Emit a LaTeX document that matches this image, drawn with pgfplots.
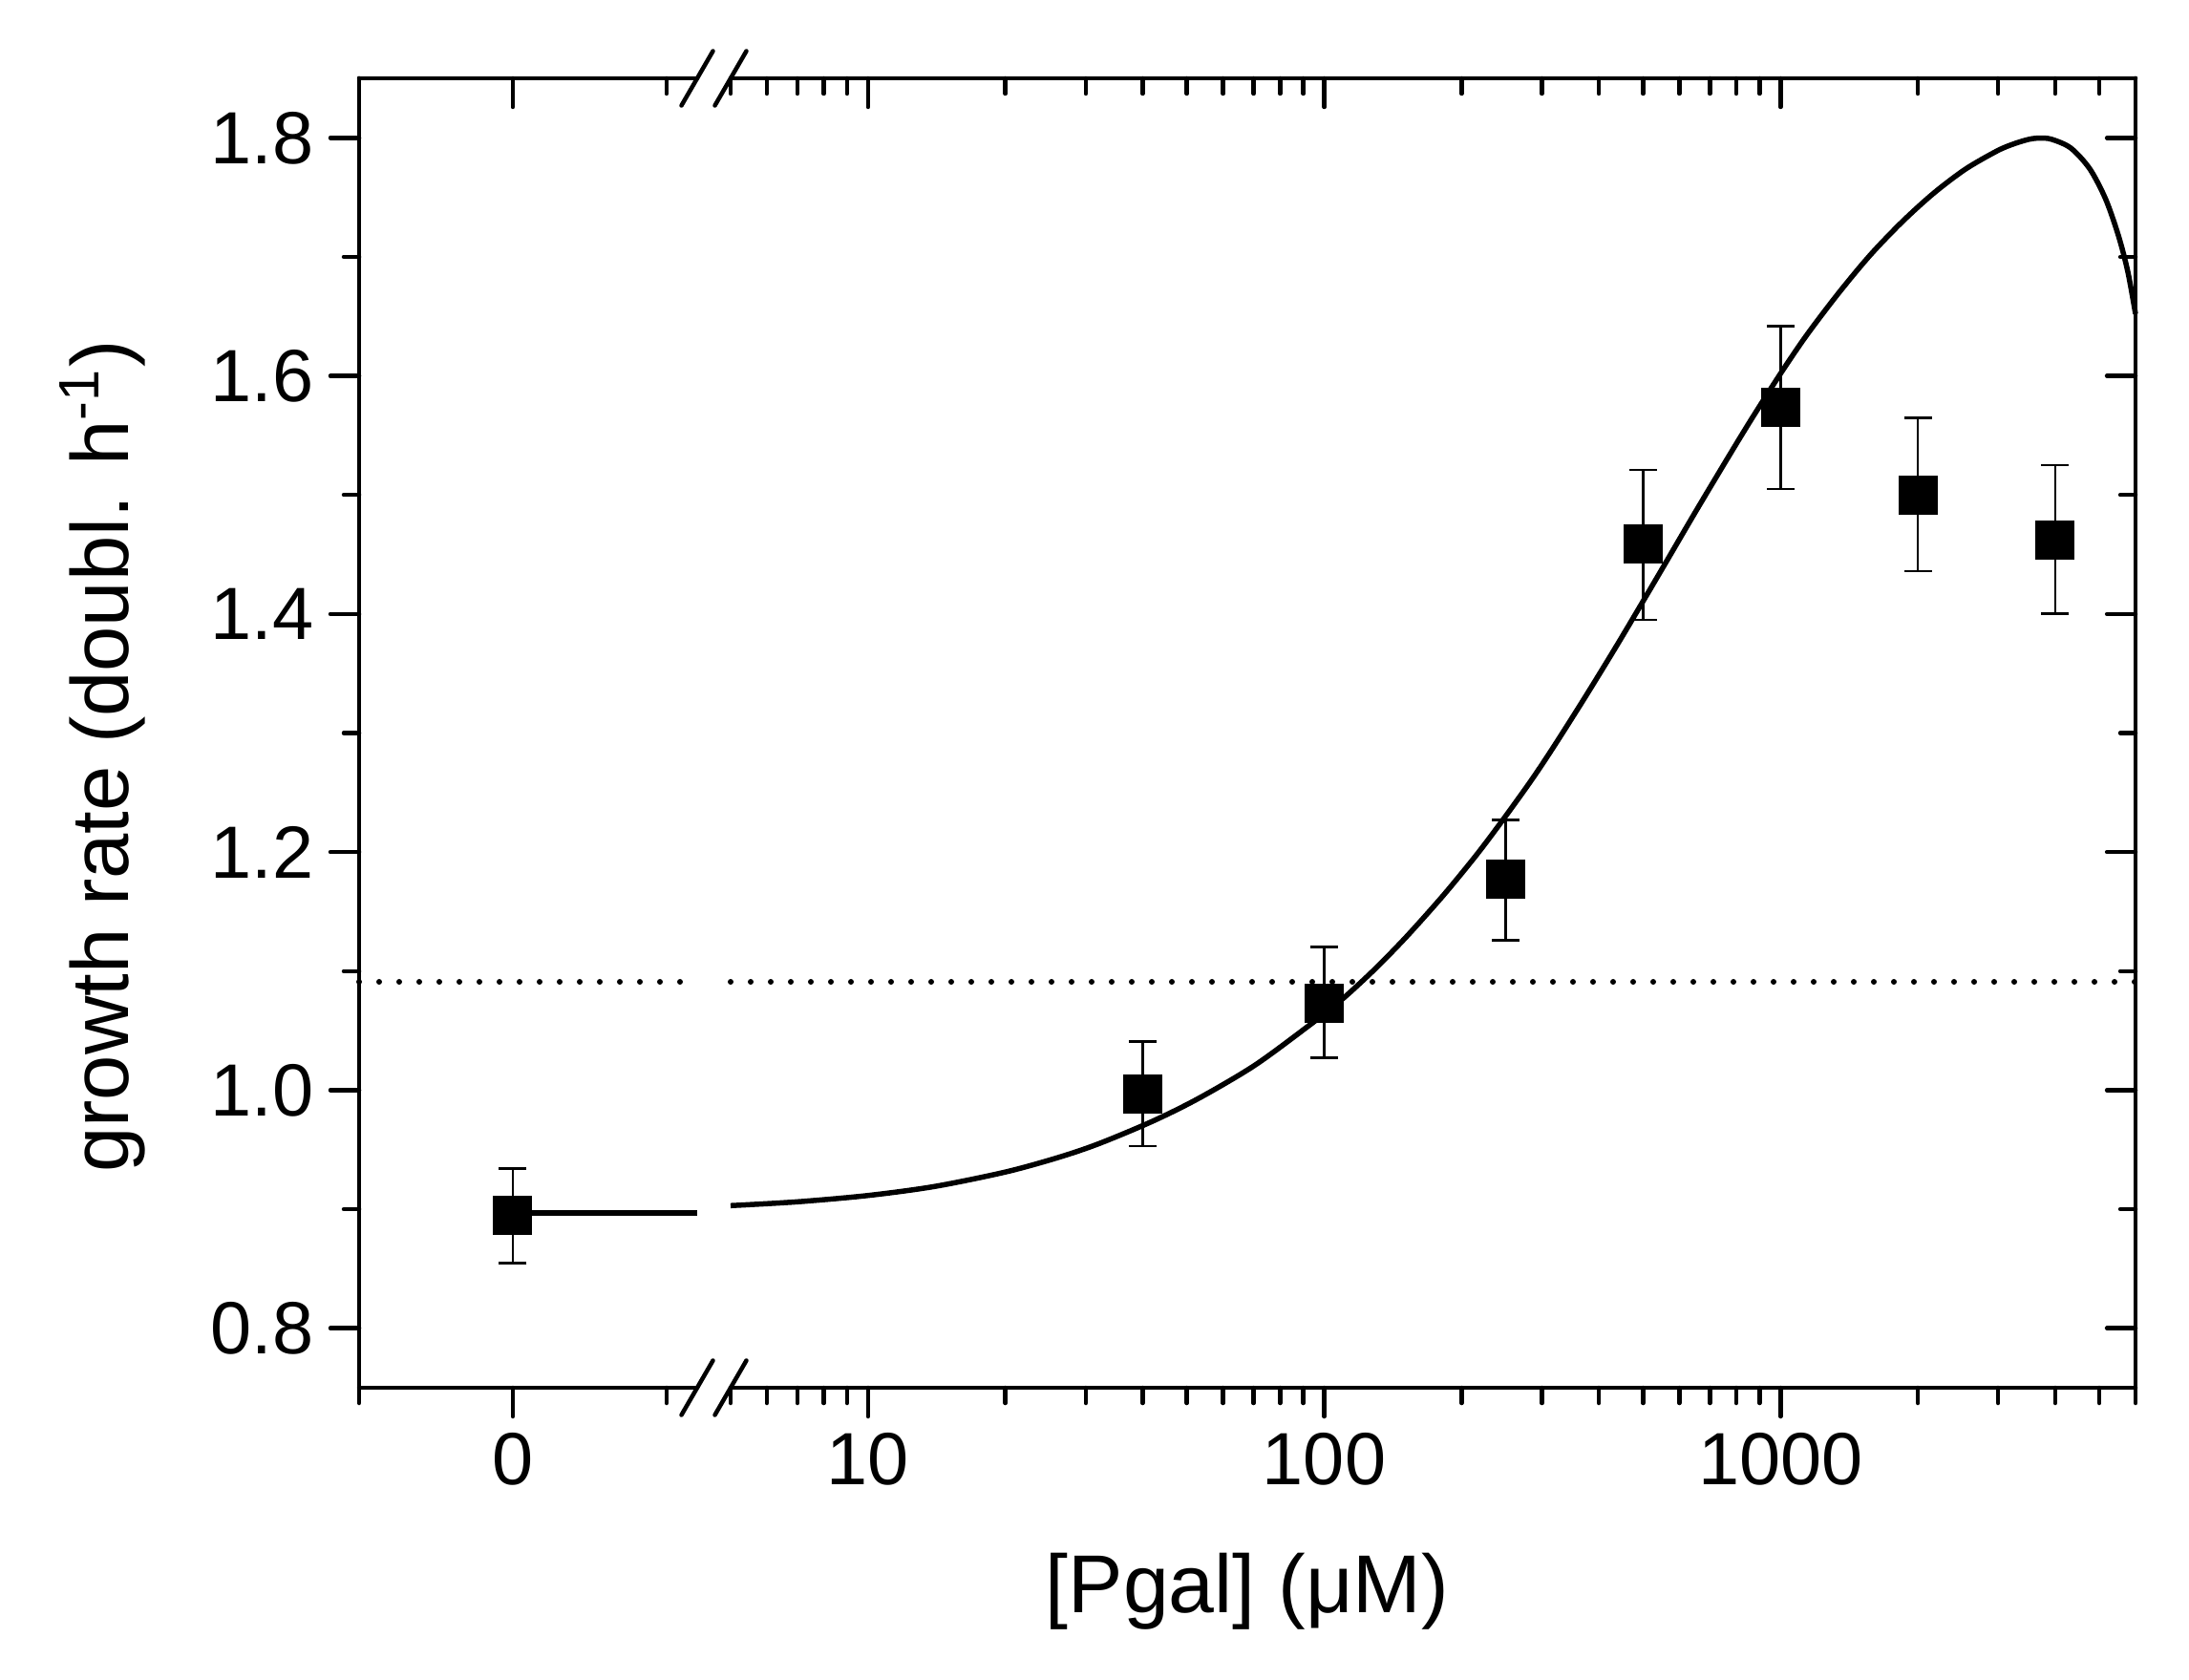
\documentclass[border=0pt]{standalone}
\usepackage{fontspec}
\setmainfont{Liberation Sans}
\usepackage{pgfplots}
\usepackage{pgfplotstable}
\pgfplotsset{compat=1.18}
\pgfplotsset{
  every non boxed x axis/.style={},
  every non boxed y axis/.style={},
  base/.style={
    scale only axis, height=274.2pt, ymin=0.75, ymax=1.85,
    enlargelimits=false, clip=false,
    axis line style={line width=0.9pt, -, line cap=round},
    major tick length=6pt, minor tick length=3.2pt,
    every tick/.style={black, line width=0.9pt, line cap=round},
    ytick={0.8,1.0,1.2,1.4,1.6,1.8}, minor ytick={0.9,1.1,1.3,1.5,1.7},
    yticklabels={0.8,1.0,1.2,1.4,1.6,1.8},
    ticklabel style={font=\fontsize{15.5}{18}\selectfont},
  },
  lin/.style={base, width=70.8pt, xmin=-1, xmax=1.2, xtick={0}, minor xtick={-1,1}, xticklabels={0}},
  lgax/.style={base, width=294.2pt, xmin=5, xmax=6000, xtick={10,100,1000},
    xticklabels={10,100,1000},
    minor xtick={5,6,7,8,9,20,30,40,50,60,70,80,90,200,300,400,500,600,700,800,900,2000,3000,4000,5000,6000}},
  pts/.style={only marks, mark=square*, mark size=3.9pt, mark options={line width=0.4pt, fill=black, draw=black},
    error bars/.cd, y dir=both, y explicit, error mark=|,
    error bar style={line width=0.55pt, black},
    error mark options={line width=0.55pt, mark size=2.9pt, black}},
}
\pgfplotstableread{
x y ep em
0 0.895 0.039 0.040
}\ptzero
\pgfplotstableread{
x y ep em
40 0.997 0.044 0.044
100 1.073 0.047 0.046
250 1.177 0.050 0.051
500 1.459 0.062 0.064
1000 1.574 0.068 0.069
2000 1.500 0.065 0.064
4000 1.462 0.063 0.062
}\ptlog
\pgfplotstableread{
x y
5 0.9030
7 0.9062
10 0.9115
14 0.9191
20 0.9312
26 0.9432
32 0.9549
42 0.9738
53 0.9930
70 1.0202
90 1.0507
108 1.0744
128 1.1003
151 1.1284
182 1.1632
215 1.1970
245 1.2258
284 1.2600
318 1.2882
369 1.3272
420 1.3622
466 1.3910
550 1.4378
647 1.4840
760 1.5288
864 1.5638
1000 1.6019
1139 1.6338
1337 1.6690
1570 1.7012
1845 1.7292
2165 1.7534
2543 1.7737
2986 1.7891
3250 1.7950
3507 1.7988
3700 1.7998
3927 1.7988
4325 1.7915
4760 1.7741
5160 1.7485
5505 1.7177
5770 1.6877
6000 1.6520
}\fitcurve
\tikzset{
  dotline/.style={line width=1.2pt, dash pattern=on 0pt off 4.2pt, line cap=round},
  fitline/.style={line width=1.1pt, black},
}
\begin{document}
\begin{tikzpicture}
\path[use as bounding box] (0,0) rectangle (458.4pt,351.6pt);
% left (linear) segment, labelled sides
\begin{axis}[lin, at={(75.2pt,61pt)}, anchor=south west,
  axis x line*=bottom, axis y line*=left, xtick pos=bottom, ytick pos=left, tick align=outside]
  \addplot[dotline] coordinates {(-1,1.091) (1.2,1.091)};
  \addplot[fitline] coordinates {(0,0.897) (1.2,0.897)};
  \addplot[pts] table[x=x, y=y, y error plus=ep, y error minus=em] {\ptzero};
\end{axis}
\begin{axis}[lin, at={(75.2pt,61pt)}, anchor=south west,
  axis x line*=top, axis y line=none, xtick pos=top, tick align=inside,
  xticklabels={}, ytick=\empty, minor ytick={}]
\end{axis}
% right (log) segment
\begin{axis}[xmode=log, lgax, at={(153pt,61pt)}, anchor=south west,
  axis x line*=bottom, axis y line=none, xtick pos=bottom, tick align=outside,
  ytick=\empty, minor ytick={}]
  \addplot[dotline] coordinates {(5,1.091) (6000,1.091)};
  \addplot[fitline, smooth, tension=0.5] table[x=x, y=y] {\fitcurve};
  \addplot[pts] table[x=x, y=y, y error plus=ep, y error minus=em] {\ptlog};
\end{axis}
\begin{axis}[xmode=log, lgax, at={(153pt,61pt)}, anchor=south west,
  axis x line*=top, axis y line*=right, xtick pos=top, ytick pos=right, tick align=inside,
  xticklabels={}, yticklabels={}]
\end{axis}
% axis break marks
\foreach \yy in {61pt,335.2pt} {
  \draw[line width=0.9pt, line cap=round] (142.7pt,\yy-5.7pt) -- (149.3pt,\yy+5.7pt);
  \draw[line width=0.9pt, line cap=round] (149.7pt,\yy-5.7pt) -- (156.3pt,\yy+5.7pt);
}
% axis labels
\node[rotate=90, anchor=base, inner sep=0pt, font=\fontsize{17}{20}\selectfont] at (27pt,193.2pt)
  {growth rate (doubl. h\textsuperscript{-1})};
\node[anchor=base, inner sep=0pt, font=\fontsize{17.2}{20}\selectfont] at (261.2pt,14pt)
  {[Pgal] (μM)};
\end{tikzpicture}
\end{document}
